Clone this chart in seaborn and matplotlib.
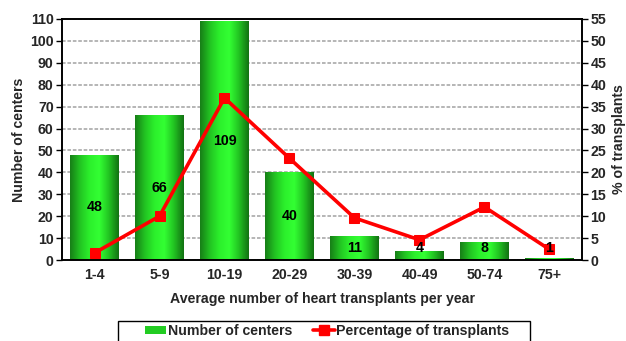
import numpy as np
import pandas as pd
import matplotlib
matplotlib.use("Agg")
import matplotlib.pyplot as plt
from matplotlib.colors import LinearSegmentedColormap
from matplotlib.patches import Patch, Rectangle
from matplotlib.lines import Line2D
import seaborn as sns

categories = ["1-4", "5-9", "10-19", "20-29", "30-39", "40-49", "50-74", "75+"]
centers = [48, 66, 109, 40, 11, 4, 8, 1]
pct_transplants = [1.6, 10.0, 37.0, 23.2, 9.6, 4.6, 12.1, 2.4]

FS = 10.2

sns.set_theme(style="white")
plt.rcParams["font.family"] = ["Liberation Sans", "DejaVu Sans"]
plt.rcParams["font.weight"] = "bold"

fig = plt.figure(figsize=(6.26, 3.41), dpi=100)
ax = fig.add_axes([62 / 626, 1 - 260 / 341, 520 / 626, 241 / 341])

df = pd.DataFrame({"range": categories, "centers": centers})
sns.barplot(data=df, x="range", y="centers", ax=ax, width=0.74,
            color="#22dd22", saturation=1, edgecolor="none", zorder=2)

# horizontal gradient fill for each bar (dark edges, bright centre)
green = LinearSegmentedColormap.from_list(
    "bar_green", ["#178017", "#22c422", "#2cf02c", "#33ff33", "#22c422", "#137313"])
grad = np.linspace(0, 1, 64).reshape(1, -1)
for p in ax.patches:
    x0, w, h = p.get_x(), p.get_width(), p.get_height()
    im = ax.imshow(grad, cmap=green, aspect="auto", extent=(x0, x0 + w, 0, h),
                   zorder=2.5, interpolation="bilinear")
    im.set_clip_path(p)

ax.set_xlim(-0.5, len(categories) - 0.5)
ax.set_ylim(0, 110)
ax.set_yticks(np.arange(0, 111, 10))
ax.yaxis.grid(True, color="#b0b0b0", linewidth=1.3, linestyle=(0, (2, 1)), zorder=0)
ax.set_axisbelow(True)

# category boundaries as ticks, names centred between them
ax.set_xticks(np.arange(-0.5, len(categories), 1.0))
ax.set_xticklabels([])
ax.set_xticks(np.arange(len(categories)), minor=True)
ax.set_xticklabels(categories, minor=True, fontweight="bold")
ax.tick_params(axis="x", which="major", length=5, width=1, color="black", direction="out")
ax.tick_params(axis="x", which="minor", length=0, pad=6, labelsize=FS)
ax.tick_params(axis="y", length=4, width=1, color="black", direction="out", pad=2,
               labelsize=FS)

ax.set_xlabel("Average number of heart transplants per year", fontsize=FS,
              fontweight="bold", labelpad=7)
ax.set_ylabel("Number of centers", fontsize=FS, fontweight="bold", labelpad=3)
for s in ax.spines.values():
    s.set_color("black")
    s.set_linewidth(1.2)

ax2 = ax.twinx()
sns.lineplot(x=np.arange(len(categories)), y=pct_transplants, ax=ax2, color="#ff0000",
             linewidth=2.6, marker="s", markersize=7.5, markeredgecolor="#ff0000",
             zorder=4)
ax2.set_ylim(0, 55)
ax2.set_yticks(np.arange(0, 56, 5))
ax2.tick_params(axis="y", length=4, width=1, color="black", direction="out", pad=2,
                labelsize=FS)
ax2.set_ylabel("% of transplants", fontsize=FS, fontweight="bold", labelpad=4)
ax2.grid(False)
for s in ax2.spines.values():
    s.set_color("black")
    s.set_linewidth(1.2)

# value labels inside the bars
for i, v in enumerate(centers):
    ax2.text(i, max(v / 2, 5.5), str(v), transform=ax.transData, ha="center",
             va="center", fontsize=FS, fontweight="bold", color="black", zorder=6)

# legend box along the bottom edge
fig.patches.append(Rectangle((118 / 626, -0.05), 412 / 626, 0.05 + (341 - 321) / 341,
                             transform=fig.transFigure, fill=False,
                             edgecolor="black", linewidth=1.0))
handles = [Patch(facecolor="#22cc22", edgecolor="none", label="Number of centers"),
           Line2D([0], [0], color="#ff0000", linewidth=2.6, marker="s", markersize=7,
                  label="Percentage of transplants")]
fig.legend(handles=handles, loc="center", bbox_to_anchor=(327 / 626, 1 - 331 / 341),
           ncol=2, frameon=False, handlelength=1.5, handleheight=0.5,
           handletextpad=0.1, columnspacing=1.5,
           prop={"weight": "bold", "size": FS})

fig.savefig("out.png", dpi=100)
